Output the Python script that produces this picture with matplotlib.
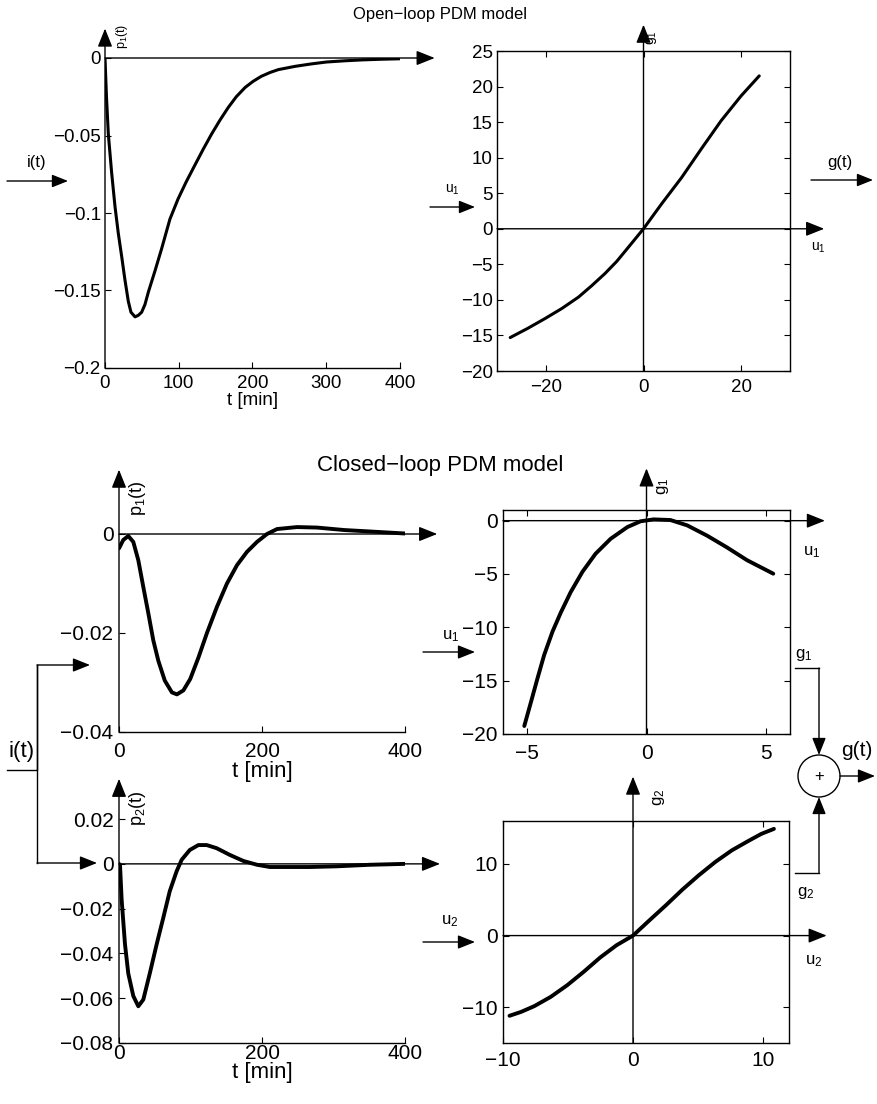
import matplotlib.pyplot as plt
from matplotlib.patches import Circle

plt.rcParams['font.family'] = ['Liberation Sans', 'DejaVu Sans']
plt.rcParams['mathtext.fontset'] = 'custom'
plt.rcParams['mathtext.rm'] = 'Liberation Sans'
plt.rcParams['mathtext.it'] = 'Liberation Sans'
plt.rcParams['mathtext.default'] = 'regular'

# open-loop PDM p1(t)
t_open = [0, 2, 4.5, 9, 13.6, 18, 22.6, 27, 31.6, 35.2, 40.7, 45.2, 49.7, 54.2, 58.8, 68,
          76.8, 88, 99, 110, 122, 133, 144.6, 156, 167, 178, 190, 201, 212, 224, 235, 257.6,
          280, 300, 325, 350, 375, 400]
p1_open = [0, -0.025, -0.049, -0.074, -0.096, -0.113, -0.128, -0.143, -0.157, -0.164, -0.167,
           -0.166, -0.164, -0.159, -0.151, -0.137, -0.123, -0.104, -0.091, -0.080, -0.069,
           -0.059, -0.049, -0.040, -0.032, -0.025, -0.019, -0.015, -0.0118, -0.0093, -0.0075,
           -0.0054, -0.0038, -0.0026, -0.0018, -0.0012, -0.0008, -0.0005]

# open-loop static nonlinearity
u_open = [-27.3, -23.7, -20.1, -16.7, -13.3, -10.6, -7.9, -5.5, -3.1, 0, 3.7, 7.8, 11.8,
          15.9, 20.0, 23.7]
g_open = [-15.3, -14.0, -12.6, -11.2, -9.6, -8.0, -6.3, -4.6, -2.6, 0, 3.5, 7.2, 11.2,
          15.2, 18.7, 21.5]

# closed-loop PDM p1(t)
t_c1 = [0, 6, 13, 20, 27, 34, 41, 48, 55, 64, 74, 81, 90, 99.6, 111, 123, 137, 151, 165,
        179, 193, 207, 221, 249, 277, 315, 352, 400]
p1_c = [-0.0029, -0.0012, -0.0004, -0.0016, -0.0053, -0.0107, -0.016, -0.0215, -0.0256,
        -0.0296, -0.032, -0.0324, -0.0316, -0.0293, -0.025, -0.020, -0.0147, -0.0100,
        -0.0063, -0.0036, -0.0016, 0.0, 0.001, 0.0014, 0.0013, 0.0008, 0.0005, 0.0001]

# closed-loop nonlinearity g1
u_c1 = [-5.11, -4.83, -4.56, -4.28, -3.93, -3.58, -3.17, -2.68, -2.13, -1.5, -0.8, -0.25,
        0.3, 1.0, 1.7, 2.53, 3.36, 4.2, 5.3]
g_c1 = [-19.25, -17.0, -14.8, -12.6, -10.4, -8.6, -6.7, -4.8, -3.1, -1.7, -0.6, -0.06,
        0.12, 0.06, -0.44, -1.4, -2.5, -3.7, -4.97]

# closed-loop PDM p2(t)
t_c2 = [0, 1.4, 3.7, 8.4, 13, 20, 27, 34, 43, 52.6, 62, 71, 80.6, 87.6, 99, 111, 122.7,
        136.6, 155, 174, 193, 211, 267, 304, 351, 400]
p2_c = [0, -0.0004, -0.016, -0.036, -0.049, -0.059, -0.0636, -0.0606, -0.049, -0.036,
        -0.024, -0.0122, -0.0033, 0.0018, 0.0062, 0.0084, 0.0084, 0.007, 0.0040, 0.0013,
        -0.0004, -0.0014, -0.0014, -0.0011, -0.0004, 0.0]

# closed-loop nonlinearity g2
u_c2 = [-9.5, -8.6, -7.6, -6.33, -5.06, -3.8, -2.53, -1.27, 0, 1.27, 2.53, 3.8, 5.06, 6.33,
        7.6, 8.86, 9.87, 10.84]
g_c2 = [-11.2, -10.65, -9.86, -8.56, -6.93, -5.07, -3.07, -1.35, 0, 2.14, 4.23, 6.42, 8.42,
        10.28, 11.9, 13.2, 14.2, 14.9]

MINUS = '\u2212'
W, H = 878, 1104
CURVE = dict(color='k', solid_joinstyle='round', solid_capstyle='round', zorder=3)


def arrow(ax, x0, y0, x1, y1, ms=16):
    ax.annotate('', xy=(x1, y1), xytext=(x0, y0), annotation_clip=False,
                arrowprops=dict(arrowstyle='-|>,head_length=0.7,head_width=0.28', lw=1.0,
                                color='k', mutation_scale=ms, shrinkA=0, shrinkB=0))


def px_axes(l, r, b, t):
    return fig.add_axes([l / W, 1 - b / H, (r - l) / W, (b - t) / H])


def kernel_axes(ax, xt, yt, ylab, fs, ytop, xend, xpad, ypad):
    for s in ['top', 'right', 'left']:
        ax.spines[s].set_visible(False)
    ax.spines['bottom'].set_linewidth(1.0)
    ax.set_xticks(xt)
    ax.set_xticklabels([str(v) for v in xt], fontsize=fs)
    ax.set_yticks(yt)
    ax.set_yticklabels(ylab, fontsize=fs)
    ax.tick_params(direction='in', length=4, width=0.8)
    ax.tick_params(axis='x', pad=xpad)
    ax.tick_params(axis='y', pad=ypad)
    arrow(ax, 0, ax.get_ylim()[0], 0, ytop)
    arrow(ax, 0, 0, xend, 0)


def static_axes(ax, xt, yt, fs, xend, ytop, xpad, ypad):
    ax.set_xticks(xt)
    ax.set_xticklabels([str(v).replace('-', MINUS) for v in xt], fontsize=fs)
    ax.set_yticks(yt)
    ax.set_yticklabels([str(v).replace('-', MINUS) for v in yt], fontsize=fs)
    ax.tick_params(direction='in', length=4, width=0.8, top=True, right=True)
    ax.tick_params(axis='x', pad=xpad)
    ax.tick_params(axis='y', pad=ypad)
    for s in ax.spines.values():
        s.set_linewidth(1.0)
    arrow(ax, ax.get_xlim()[0], 0, xend, 0)
    arrow(ax, 0, ax.get_ylim()[0], 0, ytop)


fig = plt.figure(figsize=(W / 100, H / 100), dpi=100)

# ---- open loop ----
axA = px_axes(105, 400, 368, 58)
axA.set_xlim(0, 400)
axA.set_ylim(-0.2, 0)
axA.plot(t_open, p1_open, lw=2.2, **CURVE)
kernel_axes(axA, [0, 100, 200, 300, 400], [-0.2, -0.15, -0.1, -0.05, 0],
            [MINUS + '0.2', MINUS + '0.15', MINUS + '0.1', MINUS + '0.05', '0'],
            13.5, 0.019, 447, 5, 3)
axA.set_xlabel('t [min]', fontsize=13.5, labelpad=0)

axB = px_axes(497, 790, 371, 51)
axB.set_xlim(-30, 30)
axB.set_ylim(-20, 25)
axB.plot(u_open, g_open, lw=2.2, **CURVE)
static_axes(axB, [-20, 0, 20], [-20, -15, -10, -5, 0, 5, 10, 15, 20, 25], 13.5, 37, 28.7, 6, 3)

# ---- closed loop ----
axC = px_axes(119, 405, 732, 484.5)
axC.set_xlim(0, 400)
axC.set_ylim(-0.04, 0.01)
axC.plot(t_c1, p1_c, lw=2.8, **CURVE)
kernel_axes(axC, [0, 200, 400], [-0.04, -0.02, 0], [MINUS + '0.04', MINUS + '0.02', '0'],
            15, 0.013, 445, 7, 4)
axC.set_xlabel('t [min]', fontsize=16, labelpad=0)

axD = px_axes(503, 790, 734, 510)
axD.set_xlim(-6, 6)
axD.set_ylim(-20, 1)
axD.plot(u_c1, g_c1, lw=2.8, **CURVE)
static_axes(axD, [-5, 0, 5], [-20, -15, -10, -5, 0], 15, 7.46, 4.9, 7, 4)

axE = px_axes(119, 405, 1043, 796.7)
axE.set_xlim(0, 400)
axE.set_ylim(-0.08, 0.03)
axE.plot(t_c2, p2_c, lw=2.8, **CURVE)
kernel_axes(axE, [0, 200, 400], [-0.08, -0.06, -0.04, -0.02, 0, 0.02],
            [MINUS + '0.08', MINUS + '0.06', MINUS + '0.04', MINUS + '0.02', '0', '0.02'],
            15, 0.038, 449, 1, 4)
axE.set_xlabel('t [min]', fontsize=16, labelpad=-1)

axF = px_axes(503, 789, 1043, 821)
axF.set_xlim(-10, 12)
axF.set_ylim(-15, 16)
axF.plot(u_c2, g_c2, lw=2.8, **CURVE)
static_axes(axF, [-10, 0, 10], [-10, 0, 10], 15, 14.9, 22.2, 6, 4)

# ---- block diagram overlay ----
ov = fig.add_axes([0, 0, 1, 1])
ov.set_xlim(0, W)
ov.set_ylim(H, 0)
ov.axis('off')

ov.text(440, 14, 'Open' + MINUS + 'loop PDM model', ha='center', va='center', fontsize=12)
ov.text(122, 36, '$p_1(t)$', rotation=90, ha='center', va='center', fontsize=9)
ov.text(37, 163, 'i(t)', ha='center', va='center', fontsize=12)
arrow(ov, 7, 181, 68, 181, 14)
ov.text(652, 38, '$g_1$', rotation=90, ha='center', va='center', fontsize=10)
ov.text(452, 190, '$u_1$', ha='center', va='center', fontsize=10)
arrow(ov, 430, 207, 475, 207, 14)
ov.text(840, 162, 'g(t)', ha='center', va='center', fontsize=12)
arrow(ov, 811, 180, 873, 180, 14)
ov.text(818, 248, '$u_1$', ha='center', va='center', fontsize=10)

ov.text(440, 465, 'Closed' + MINUS + 'loop PDM model', ha='center', va='center', fontsize=16)
ov.text(138, 498, '$p_1(t)$', rotation=90, ha='center', va='center', fontsize=13)
ov.text(138, 808, '$p_2(t)$', rotation=90, ha='center', va='center', fontsize=13)
ov.text(663, 486, '$g_1$', rotation=90, ha='center', va='center', fontsize=12)
ov.text(659, 797, '$g_2$', rotation=90, ha='center', va='center', fontsize=12)
ov.text(812, 552, '$u_1$', ha='center', va='center', fontsize=12)
ov.text(814, 961, '$u_2$', ha='center', va='center', fontsize=12)

ov.text(22, 752, 'i(t)', ha='center', va='center', fontsize=16)
ov.plot([7, 37, 37], [770, 770, 665], color='k', lw=1.0)
ov.plot([37, 37], [665, 863], color='k', lw=1.0)
arrow(ov, 37, 665, 90, 665, 15)
arrow(ov, 37, 863, 97, 863, 15)

ov.text(451, 636, '$u_1$', ha='center', va='center', fontsize=12)
arrow(ov, 423, 652, 475, 652, 15)
ov.text(450, 921, '$u_2$', ha='center', va='center', fontsize=12)
arrow(ov, 423, 942, 475, 942, 15)

ov.add_patch(Circle((819, 776), 21, fill=False, lw=1.0, color='k'))
ov.text(819, 777, '+', ha='center', va='center', fontsize=12)
ov.text(804, 655, '$g_1$', ha='center', va='center', fontsize=12)
ov.plot([795, 819], [668, 668], color='k', lw=1.0)
arrow(ov, 819, 668, 819, 755, 15)
ov.text(806, 893, '$g_2$', ha='center', va='center', fontsize=12)
ov.plot([795, 819], [873, 873], color='k', lw=1.0)
arrow(ov, 819, 873, 819, 797, 15)
ov.text(857, 750, 'g(t)', ha='center', va='center', fontsize=15)
arrow(ov, 840, 776, 875, 776, 15)

fig.savefig('out.png', dpi=100)
